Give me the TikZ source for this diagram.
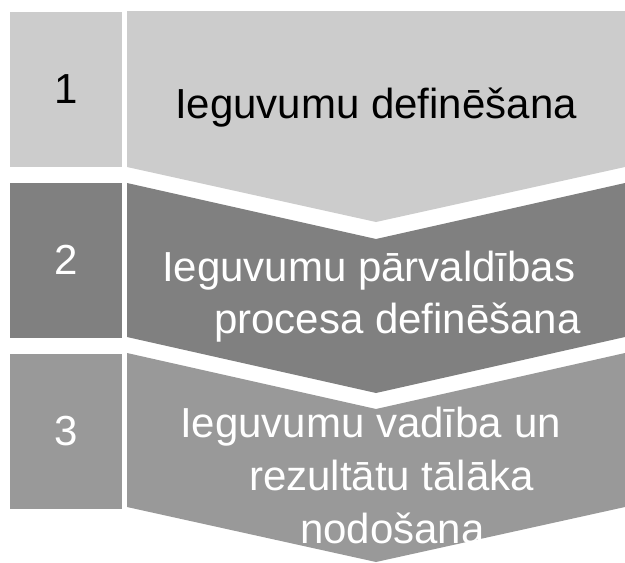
\documentclass[tikz,border=0pt]{standalone}
\usepackage{fontspec}
\setmainfont{Liberation Sans}

\definecolor{stepone}{HTML}{CCCCCC}
\definecolor{steptwo}{HTML}{808080}
\definecolor{stepthree}{HTML}{999999}

\tikzset{
  numbox/.style={minimum width=112pt, minimum height=155pt, inner sep=0pt,
    font=\fontsize{42}{53}\selectfont},
  steptext/.style={anchor=base west, inner sep=0pt,
    font=\fontsize{42}{53}\selectfont}
}

\begin{document}
\begin{tikzpicture}[x=1pt, y=-1pt]
  \useasboundingbox (0,0) rectangle (625,563);

  % 1. Number boxes on the left
  \node[numbox, fill=stepone] (num1) at (66,89) {1};
  \node[numbox, fill=steptwo, text=white] (num2) at (66,260) {2};
  \node[numbox, fill=stepthree, text=white] (num3) at (66,431) {3};

  % 2. Chevrons pointing down
  \fill[stepone] (127,11) -- (625,11) -- (625,167) -- (376,222) -- (127,167) -- cycle;
  \fill[steptwo] (127,183) -- (376,239) -- (625,183) -- (625,337) -- (376,393) -- (127,337) -- cycle;
  \fill[stepthree] (127,353) -- (376,409) -- (625,353) -- (625,507) -- (376,562) -- (127,507) -- cycle;

  % 3. Texts in the chevrons
  \node[steptext] (t1) at (175,118) {Ieguvumu definēšana};

  \node[steptext, text=white] (t2a) at (162,281) {Ieguvumu pārvaldības};
  \node[steptext, text=white] (t2b) at (214,333) {procesa definēšana};

  \node[steptext, text=white] (t3a) at (180,437) {Ieguvumu vadība un};
  \node[steptext, text=white] (t3b) at (249,490) {rezultātu tālāka};
  \node[steptext, text=white] (t3c) at (300,543) {nodošana};
\end{tikzpicture}
\end{document}
